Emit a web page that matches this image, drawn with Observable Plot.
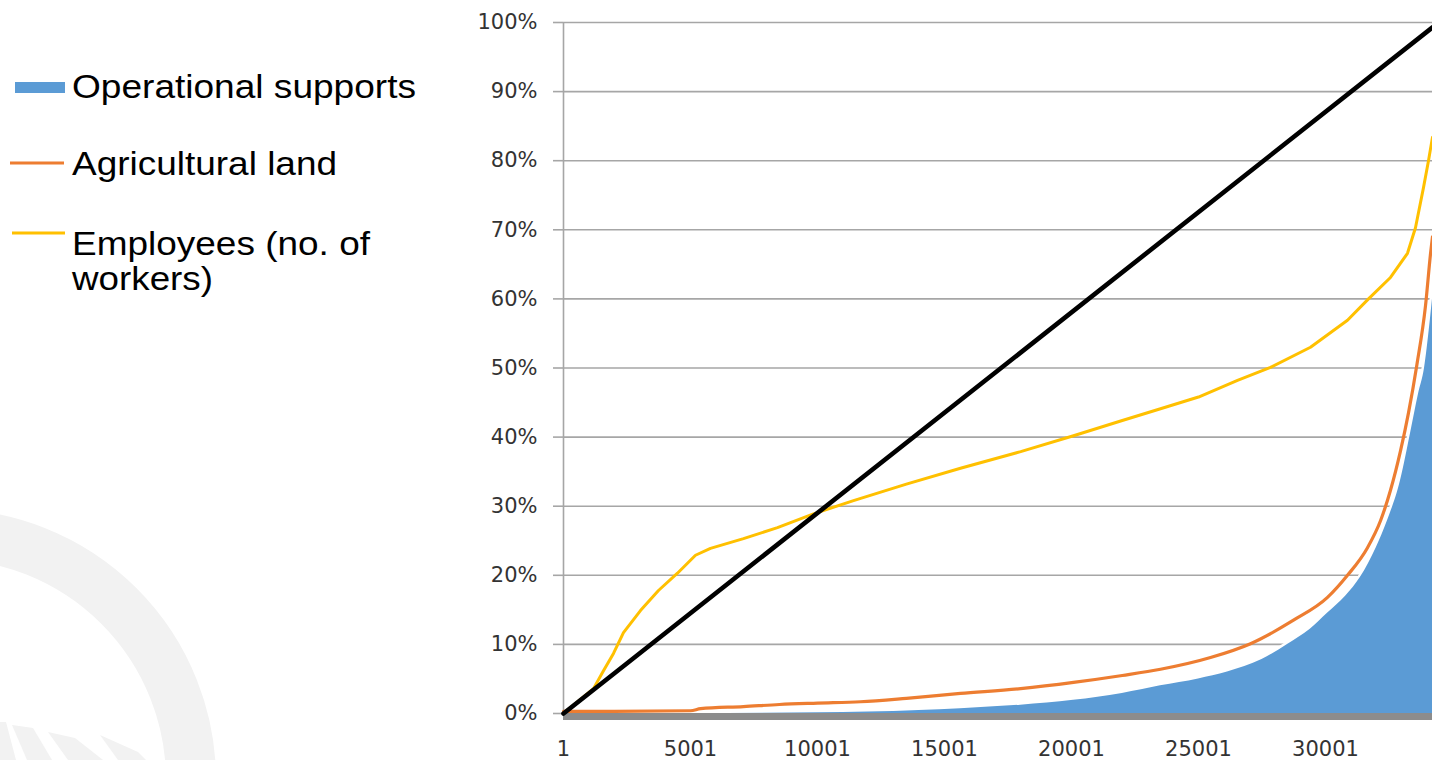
<!DOCTYPE html>
<html>
<head>
<meta charset="utf-8">
<script src="https://cdn.jsdelivr.net/npm/d3@7"></script>
<script src="https://cdn.jsdelivr.net/npm/@observablehq/plot@0.6"></script>
<style>
  html, body { margin: 0; padding: 0; background: #ffffff; }
  #wrap { position: relative; width: 1432px; height: 760px; overflow: hidden; background: #ffffff; }
  #watermark, #legend, #chart { position: absolute; left: 0; top: 0; }
  #watermark { z-index: 0; }
  #chart { z-index: 1; }
  #legend { z-index: 2; }
</style>
</head>
<body>
<div id="wrap">
  <svg id="watermark" width="1432" height="760">
    <circle cx="-55" cy="780" r="246" fill="none" stroke="#f2f2f2" stroke-width="50"></circle>
    <polygon points="0,722 6,722 16,760 0,760" fill="#f2f2f2"></polygon>
    <polygon points="12,725 33,728 52,760 27,760" fill="#f2f2f2"></polygon>
    <polygon points="48,732 75,738 103,760 68,760" fill="#f2f2f2"></polygon>
    <polygon points="100,735 138,752 146,760 118,760" fill="#f2f2f2"></polygon>
  </svg>
  <div id="chart"></div>
  <svg id="legend" width="440" height="320"></svg>
</div>
<script>
// ---- Data ----
const xTickValues = [1, 5001, 10001, 15001, 20001, 25001, 30001];
const yTickValues = [0, 10, 20, 30, 40, 50, 60, 70, 80, 90, 100];
const xDomain = [1, 34213];

const seriesNames = ["Operational supports", "Agricultural land", "Employees (no. of workers)"];
const seriesColors = ["#5b9bd5", "#ed7d31", "#ffc000"];

// Line of equality
const equalityX = [1, 34213];
const equalityY = [0, 99.3];

// Operational supports (cumulative share, %)
const supportsX = [1, 5001, 10001, 12000, 14000, 15630, 18000, 20080, 22000, 23505, 25000, 26142, 27500, 28505, 29400, 30079, 30800, 31378, 32000, 32441, 32953, 33346, 33661, 33900, 34100, 34213];
const supportsY = [0, 0, 0.1, 0.2, 0.45, 0.7, 1.2, 1.9, 2.9, 4.0, 5.0, 6.0, 7.8, 10.0, 12.2, 14.5, 17.0, 19.7, 24.0, 27.9, 33.7, 40.5, 46.2, 50.0, 56.0, 60.0];

// Agricultural land (cumulative share, %)
const landX = [1, 2000, 5001, 5400, 7087, 8500, 10001, 11693, 13500, 15630, 18000, 20080, 22000, 23505, 25474, 27048, 28741, 30079, 30866, 31654, 32166, 32559, 32953, 33268, 33600, 33937, 34134, 34213];
const landY = [0.3, 0.3, 0.4, 0.7, 1.0, 1.3, 1.5, 1.7, 2.2, 2.9, 3.6, 4.5, 5.5, 6.4, 8.1, 10.1, 13.5, 16.8, 20.0, 24.0, 27.9, 32.3, 38.0, 43.5, 50.5, 59.0, 66.5, 69.0];

// Employees (cumulative share, %)
const employeesX = [1, 1181, 1575, 1969, 2362, 3031, 3740, 4488, 5197, 5787, 7087, 8425, 9843, 11418, 13500, 15630, 18000, 20080, 22000, 23505, 25000, 26536, 27835, 29410, 30866, 31693, 32559, 33228, 33543, 33858, 34055, 34213];
const employeesY = [0, 3.6, 6.2, 8.7, 11.7, 14.9, 17.8, 20.3, 22.9, 23.9, 25.3, 26.9, 28.9, 30.8, 33.2, 35.5, 37.9, 40.2, 42.4, 44.1, 45.8, 48.2, 50.1, 53.0, 56.9, 60.0, 63.1, 66.6, 70.3, 76.1, 80.0, 83.4];

const zip = (xs, ys) => xs.map((x, i) => ({x, y: ys[i]}));
const equality = zip(equalityX, equalityY);
const supports = zip(supportsX, supportsY);
const land = zip(landX, landY);
const employees = zip(employeesX, employeesY);

const gridColor = "#a6a6a6";
const textColor = "#333333";

const chart = Plot.plot({
  width: 1432,
  height: 760,
  marginLeft: 563,
  marginRight: 0,
  marginTop: 22,
  marginBottom: 47,
  style: {background: "transparent", fontFamily: "'DejaVu Sans', Verdana, sans-serif", fontSize: "21px", color: textColor, overflow: "visible"},
  x: {domain: xDomain, label: null},
  y: {domain: [0, 100], label: null},
  marks: [
    Plot.ruleY(yTickValues, {stroke: gridColor, strokeWidth: 1.6}),
    Plot.ruleX([xDomain[0]], {y1: 0, y2: 100, stroke: gridColor, strokeWidth: 1.6}),
    Plot.lineY(supports, {x: "x", y: "y", stroke: "#ffffff", strokeWidth: 6, curve: "monotone-x"}),
    Plot.areaY(supports, {x: "x", y: "y", fill: seriesColors[0], curve: "monotone-x"}),
    Plot.ruleY([0], {stroke: "#8c8c8c", strokeWidth: 7, dy: 3}),
    Plot.axisY(yTickValues, {tickSize: 10, tickPadding: 16, stroke: gridColor, strokeWidth: 1.6, fill: textColor, tickFormat: d => d + "%", label: null}),
    Plot.axisX(xTickValues, {tickSize: 0, tickPadding: 28, fill: textColor, tickFormat: d => String(d), label: null}),
    Plot.lineY(land, {x: "x", y: "y", stroke: seriesColors[1], strokeWidth: 3.2, curve: "monotone-x"}),
    Plot.lineY(employees, {x: "x", y: "y", stroke: seriesColors[2], strokeWidth: 3}),
    Plot.lineY(equality, {x: "x", y: "y", stroke: "#000000", strokeWidth: 4.6})
  ]
});
document.getElementById("chart").appendChild(chart);

// ---- Legend ----
const legend = d3.select("#legend");
const font = "'Liberation Sans', Arial, sans-serif";
legend.append("rect").attr("x", 15).attr("y", 82).attr("width", 50).attr("height", 11).attr("fill", seriesColors[0]);
legend.append("line").attr("x1", 10).attr("x2", 64).attr("y1", 163).attr("y2", 163).attr("stroke", seriesColors[1]).attr("stroke-width", 3);
legend.append("line").attr("x1", 12).attr("x2", 65).attr("y1", 233).attr("y2", 233).attr("stroke", seriesColors[2]).attr("stroke-width", 3);
const legendLines = [
  {text: seriesNames[0], y: 98, len: 344},
  {text: "Agricultural land", y: 175, len: 265},
  {text: "Employees (no. of", y: 255, len: 298},
  {text: "workers)", y: 290, len: 141}
];
legend.selectAll("text.lg").data(legendLines).join("text")
  .attr("class", "lg")
  .attr("x", 72)
  .attr("y", d => d.y)
  .attr("textLength", d => d.len)
  .attr("lengthAdjust", "spacingAndGlyphs")
  .attr("font-family", font)
  .attr("font-size", 33)
  .attr("fill", "#000000")
  .text(d => d.text);
</script>
</body>
</html>
